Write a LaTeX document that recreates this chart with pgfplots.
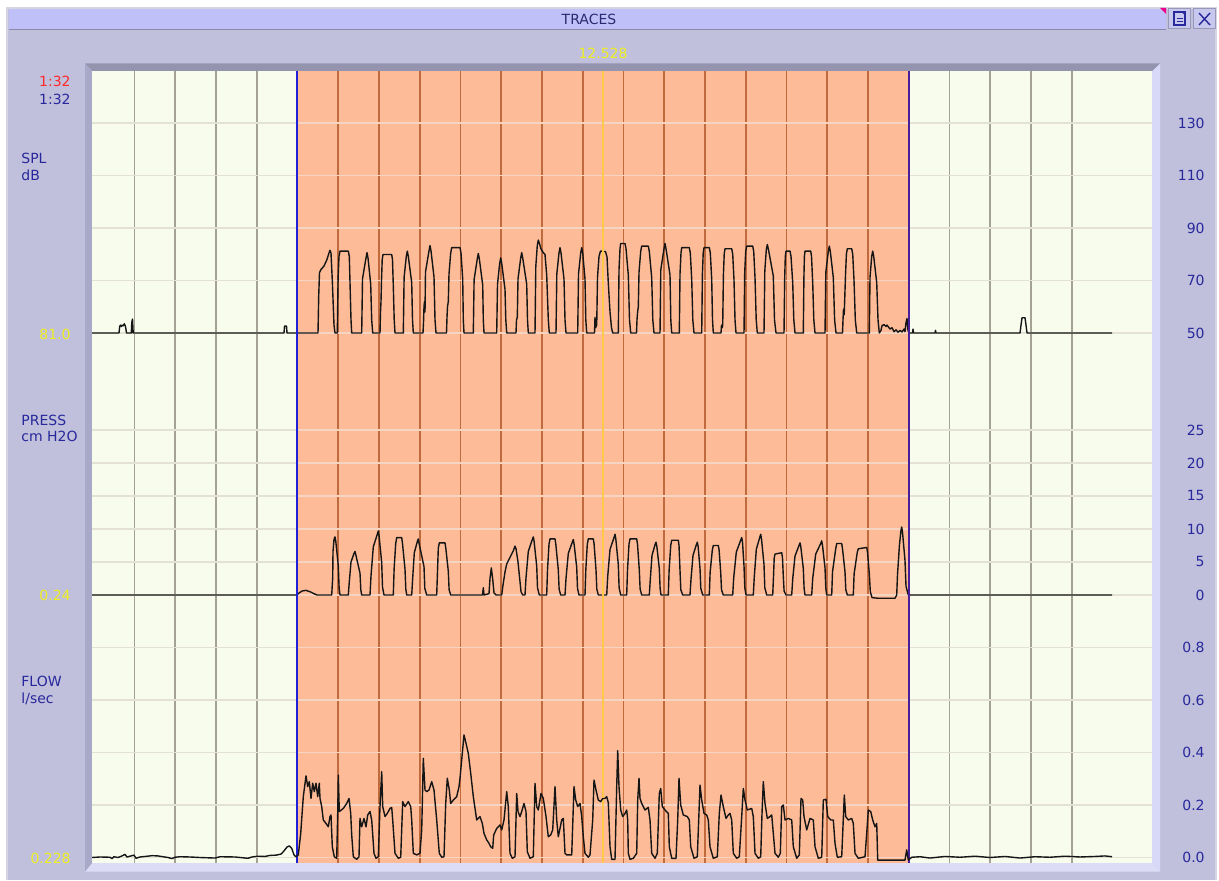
\documentclass[border=0pt]{standalone}
\usepackage{pgfplots}
\pgfplotsset{compat=1.18}
\usepackage{pgfplotstable}
\usepackage{fontspec}
\setmainfont{DejaVu Sans}

\definecolor{winbg}{HTML}{C0C0DC}
\definecolor{winedge}{HTML}{D4D4E2}
\definecolor{titlebar}{HTML}{C0C0F8}
\definecolor{titleline}{HTML}{8A8AA8}
\definecolor{titletext}{HTML}{2A2A70}
\definecolor{btnbg}{HTML}{C8C8EE}
\definecolor{btnedge}{HTML}{9898B8}
\definecolor{bevelT}{HTML}{9494AE}
\definecolor{bevelL}{HTML}{A8A8C8}
\definecolor{bevelR}{HTML}{D8D8F8}
\definecolor{bevelB}{HTML}{DCDCF6}
\definecolor{cream}{HTML}{F8FCEC}
\definecolor{salmon}{HTML}{FDBB98}
\definecolor{gridv}{HTML}{A4A294}
\definecolor{gridvo}{HTML}{C06A3E}
\definecolor{gridh}{HTML}{E4E2D4}
\definecolor{gridho}{HTML}{F6D4C2}
\definecolor{navy}{HTML}{28289C}
\definecolor{redlab}{HTML}{FF2A2A}
\definecolor{yellab}{HTML}{EEEE20}
\definecolor{trace}{HTML}{151515}
\definecolor{markblue}{HTML}{2020D8}
\definecolor{markpurple}{HTML}{4A1E9A}
\definecolor{cursor}{HTML}{FFC848}

% SPL (dB)
\pgfplotstableread{
x v
92 50
119 50
119.7 52.5
120.5 53
121.5 52.5
122.5 53
123.5 52.8
124.3 53.5
125.5 52.5
126.5 50
131.3 50
131.8 54
132.5 55.3
133.2 50
284 50
284.5 52.6
286.5 52.6
287 50
318 50
318.7 64
319.5 73
321 74.2
324 75.5
327 78
329 80.5
330 81.5
331 80.5
332.3 70
333.3 60
334 53
335 50
337.3 50
338.1 71.2
339 79.2
340 81.2
348.3 81.2
349.3 79.2
350 69.2
351 55
351.7 50
361.7 50
362.5 70.6
366 78.6
367 80.6
368 78.6
370.7 68.6
371.7 55
372.7 50
380 50
380.5 58
381 62
381.5 70
382.2 77.9
383 79.9
391.7 79.9
392.5 77.9
393.3 67.9
394.2 55
395 50
403.3 50
404.1 71.2
406.3 79.2
407.3 81.2
408.3 79.2
411.7 69.2
412.5 55
413.3 50
423 50
423.5 54
424 60
424.5 62
425 58
425.5 73.3
429 81.3
430 83.3
431 81.3
434 71.3
435 55
436 50
446.5 50
447 56
447.5 60
448.3 62
449 72.5
450.7 80.5
451.7 82.5
460 82.5
461 80.5
462.7 70.5
463.3 55
464 50
473.3 50
474.1 70.3
477.3 78.3
478.3 80.3
479.3 78.3
482.7 68.3
483.3 55
484 50
496.7 50
497.5 68.6
499.7 76.6
500.7 78.6
501.7 76.6
505 66.6
505.8 55
506.7 50
516 50
516.5 55
517.3 56
518 70.6
520.7 78.6
521.7 80.6
522.7 78.6
526.7 68.6
527.5 55
528.3 50
535 50
535.8 75.4
537.3 83.4
538.3 85.4
539.5 84
541 82
543.3 80.6
545 79.9
546.7 72
548.3 55
549.3 50
556 50
556.8 72.5
559 80.5
560 82.5
561 80.5
564 70.5
565 55
566 50
577.7 50
578.5 72.5
580.7 80.5
581.7 82.5
582.7 80.5
585 70.5
585.8 55
586.7 50
594.5 50
595 56
595.5 52
596.7 53
597.5 71.2
599 79.2
600.5 81.2
605.5 81
607 79
608.3 69
610 58
611.5 52
612.7 50
618.3 50
619 74.1
620 82.1
620.7 84.1
625 84.1
626 82.1
628.3 72.1
629.5 55
630.7 50
636.5 50
637 55
637.6 58
638.3 60
639 73.1
640.7 81.1
641.7 83.1
648.3 83.1
649.3 81.1
651.7 71.1
652.8 55
654 50
660 50
660.8 74.1
664 82.1
665 84.1
666 82.1
670 72.1
670.8 55
671.7 50
679.3 50
680 72.5
681 80.5
681.7 82.5
689.3 82.5
690.3 80.5
691.7 70.5
692.8 55
694 50
701.7 50
702.4 72.5
703.2 80.5
704 82.5
709.3 82.5
710.3 80.5
711.7 70.5
712.5 55
713.3 50
721 50
721.5 53
722.2 52
722.7 53
723.4 72.1
724.2 80.1
725 82.1
731.7 82.1
732.7 80.1
734 70.1
735 55
736 50
744 50
744.7 73.1
745.7 81.1
746.7 83.1
752.7 83.1
753.7 81.1
755 71.1
756.2 55
757.3 50
764 50
764.8 73.7
766.3 81.7
767.3 83.7
768.5 81.7
773.3 71.7
774.5 55
776 50
784 50
784.7 71.2
785.3 79.2
786 81.2
790 81.2
791 79.2
792.7 69.2
793.8 55
795 50
803.3 50
803.9 71.2
804.4 79.2
805 81.2
810.7 81.2
811.5 79.2
812.7 69.2
813.8 55
815 50
825 50
825.8 73.1
828.3 81.1
829.3 83.1
830.3 81.1
833.3 71.1
834.6 55
836 50
842.5 50
843 55
843.5 59
844.2 57
845.5 72.1
846.4 80.1
847.3 82.1
851.7 82.1
852.7 80.1
854 70.1
855.3 55
856.7 50
869.3 50
870 71.2
871.7 79.2
872.7 81.2
873.7 79.2
876.7 69.2
878 55
879.3 50
881 51
882 52.8
884 53.2
886 52.5
887 53
889 52
890 51.5
892 52
894 50.5
896 51.2
898 50.3
900 51
902 50.4
904 51.5
905 50.5
906 54
907 55.5
908 51
909 50
912.5 50
913 51.5
913.5 50
935 50
935.5 51
936 50
1020 50
1021 53
1022 55.8
1025 55.8
1026 53
1027 50
1112 50
}\splTable

% PRESS (cm H2O)
\pgfplotstableread{
x v
92 0
297 0
299 0.3
302 0.6
306 0.7
310 0.5
314 0.2
317 0
331.7 0
332.7 2.6
333 6.6
334 8.4
335 8.8
335.8 8.1
338.3 4.4
339.1 1.1
340 0
348.3 0
349.3 2
351 5
354 6.3
355 6.6
355.8 6.1
360 3.3
360.8 0.8
361.7 0
370 0
371 2.9
373.3 7.3
377.3 9.2
378.3 9.7
379.1 8.9
381.7 4.9
382.5 1.2
384 0
393.3 0
394.1 3.9
395.7 7.8
396.7 8.7
401.7 8.7
402.5 7.8
405 3.9
405.8 0.9
406.7 0
411.7 0
412.7 2.6
414.3 6.4
417.3 8.1
418.3 8.5
419.1 7.8
424 4.3
424.8 1
426.7 0
436.7 0
437.5 3.6
438.3 7.1
439.3 7.9
445 7.9
445.8 7.1
448.3 3.6
449.1 0.8
450.7 0
482.5 0
483.3 1.1
484 0
489 0.2
490 2.5
491.3 4.1
492.7 2.4
494 0.3
496 0
501.7 0
503 1.5
505 3.5
506.7 4.7
510 5.7
513.3 6.7
515 7.4
516 7
518 5
520 2
521 0.5
522.7 0
525 0
526 2.6
528.3 6.6
532.3 8.4
533.3 8.8
534.1 8.1
536.7 4.4
537.5 1.1
539.3 0
546.7 0
547.5 3.8
549 7.7
550 8.5
555 8.5
555.8 7.7
558.3 3.8
559.1 0.9
560.7 0
565 0
566 2.5
568.3 6.3
572.3 8
573.3 8.4
574.1 7.7
576.7 4.2
577.5 1
579 0
585 0
585.8 3.8
587.3 7.7
588.3 8.5
593.3 8.5
594.1 7.7
596 3.8
596.8 0.9
598.3 0
606.7 0
607.7 2.8
610 6.9
614 8.7
615 9.2
615.8 8.5
618.3 4.6
619.1 1.1
620.7 0
626.7 0
627.5 3.8
629 7.7
630 8.5
636.7 8.5
637.5 7.7
639.3 3.8
640.1 0.9
641.7 0
649.3 0
650.3 2.4
652 6
655 7.6
656 8
656.8 7.4
659.3 4
660.1 1
661 0
668.3 0
669.1 3.7
670.7 7.5
671.7 8.3
678.3 8.3
679 7.5
680 3.7
680.8 0.8
682.7 0
690 0
691 2.4
693 6
696.3 7.6
697.3 8
698.1 7.4
700 4
700.8 1
702.7 0
709.3 0
710.1 3.4
712.3 6.8
713.3 7.5
718.3 7.5
719.1 6.8
720.7 3.4
721.5 0.8
723.3 0
732.7 0
733.7 2.6
736.3 6.5
740.7 8.3
741.7 8.7
742.5 8
744 4.4
744.8 1.1
746 0
753.3 0
754.3 2.8
756.3 6.9
759.7 8.7
760.7 9.2
761.5 8.5
764 4.6
764.8 1.1
766.7 0
772.7 0
773.5 2.8
774.2 5.6
775 6.2
781.7 6.4
782.5 5.6
783.3 2.8
784.1 0.6
786 0
791.7 0
792.7 2.4
795 5.9
799 7.5
800 7.9
800.8 7.3
803.3 4
804.1 1
805 0
811.7 0
812.7 2.5
815.7 6.2
820.7 7.8
821.7 8.2
822.5 7.5
825 4.1
825.8 1
826.7 0
831.7 0
832.5 3.5
835.7 7
836.7 7.8
841.7 7.8
842.5 7
845 3.5
845.8 0.8
847.3 0
853.3 0
854.1 3.2
857.3 6.5
858.3 7
866.7 7.2
867.5 6.5
869.3 3.2
870.3 0.5
872 -0.4
878.3 -0.5
895 -0.5
896.7 0
897.5 3.1
899.5 7.7
901 9.8
901.7 10.3
902.5 9.5
905 5.2
906 1.3
908.3 0
1112 0
}\pressTable

% FLOW (l/sec)
\pgfplotstableread{
x v
92 0
100 0.002
110 0.001
112 -0.004
114 0.003
118 0
122 0.006
125 0.012
127 0.002
130 0.005
134 0.009
136 -0.003
140 0.002
145 0.004
152 0.007
158 0.006
163 0.003
168 0
172 -0.004
175 0.001
180 0.003
190 0.002
200 0
215 -0.002
220 0.003
235 0.002
248 -0.003
252 0.002
258 0.005
265 0.004
270 0.008
276 0.009
281 0.013
284 0.025
287 0.040
289.3 0.044
291.7 0.035
294 0.010
296 0.003
298.3 0.010
300.7 0.092
303.3 0.232
306 0.311
307.7 0.270
309.3 0.289
311 0.225
312.7 0.283
314.3 0.251
316 0.283
317.7 0.232
319.3 0.283
320 0.225
321.7 0.194
323.3 0.143
326 0.130
328.3 0.117
330 0.156
331 0.162
332.3 0.041
334.3 0.003
336.7 -0.003
337.7 0.168
338.3 0.314
339.3 0.175
343.3 0.187
346.7 0.206
349 0.225
350.7 0.168
351.7 0.086
353.3 0.003
356.7 -0.007
359 0.003
360 0.149
361.7 0.117
364 0.149
366 0.117
367.7 0.162
370 0.175
371.7 0.143
374 0.016
376 -0.003
378.3 0.003
380 0.194
381.7 0.327
382.7 0.194
385 0.156
387.3 0.168
390 0.187
391.7 0.191
392.7 0.143
395 0.016
398.3 -0.003
400.7 0.001
402.7 0.213
405 0.194
408.3 0.213
410.7 0.194
411.7 0.143
413.3 0.016
416.7 0.010
420 0.016
421.7 0.105
423.3 0.378
425 0.257
426.7 0.251
429 0.257
431.7 0.289
434 0.257
436.7 0.143
439.3 0.016
441.7 0.001
444 0.003
445.7 0.206
447.3 0.302
449.3 0.257
450.7 0.206
453.3 0.219
456.7 0.232
459 0.270
460 0.302
462.3 0.397
464 0.467
466 0.435
468.3 0.397
470.7 0.321
473.3 0.232
476.7 0.143
480 0.156
482.3 0.130
484 0.092
486.7 0.067
489 0.054
490.7 0.041
492.7 0.035
493.7 0.086
496.7 0.111
500 0.124
501.7 0.105
504 0.143
506.7 0.251
508.3 0.194
510 0.016
512.3 -0.003
515 0.003
516.7 0.244
518 0.175
520 0.156
521.7 0.175
524 0.206
526 0.175
527.3 0.022
530 -0.003
533.3 0.003
535 0.283
536.7 0.194
538.3 0.181
541 0.244
543.3 0.225
546 0.156
548.3 0.079
550.7 0.086
552.7 0.105
555 0.270
556.7 0.143
558.3 0.079
561.7 0.143
563.3 0.149
565 0.016
566.7 0.010
571.7 0.010
574 0.270
575.7 0.219
577.7 0.194
580 0.206
581.7 0.156
583.3 0.079
585 0.016
588.3 0.001
590 0.010
592.7 0.143
594 0.295
596 0.257
598.3 0.219
600.7 0.213
602.7 0.225
605 0.225
606.7 0.232
608.3 0.209
610 0.041
611.7 -0.007
615 -0.007
616.7 0.270
617.7 0.407
619 0.270
620.7 0.181
622.7 0.156
625 0.168
626.7 0.181
627.7 0.143
628.3 0.016
630 -0.007
633.3 -0.003
636.7 0.016
637.7 0.219
639 0.302
640 0.225
641.7 0.206
645 0.181
648.3 0.191
650 0.143
651.7 0.016
655 -0.003
657.3 0.016
659.3 0.244
660.7 0.263
662.3 0.194
665 0.181
668.3 0.168
669.3 0.041
671.7 -0.003
676 -0.003
677.7 0.143
679 0.302
680.7 0.200
683.3 0.162
687.3 0.156
689.3 0.143
690.7 0.041
694 -0.003
697.3 0.003
698.7 0.143
700 0.276
701.7 0.219
704 0.168
706.7 0.162
708.3 0.143
710 0.041
713.3 -0.003
717.3 0.003
719.3 0.168
721 0.238
723.3 0.194
726 0.149
728.3 0.162
730 0.168
731.7 0.143
733.3 0.016
736.7 -0.003
739.3 0.003
741.7 0.156
743.3 0.263
745 0.219
747.3 0.181
751.7 0.187
753.3 0.156
755 0.016
758.3 -0.003
760.7 0.003
762 0.168
763.3 0.289
765 0.206
767.3 0.149
770 0.156
771.7 0.162
773.3 0.092
775 0.016
778.3 0.001
780.3 0.016
781.7 0.194
783.3 0.200
785 0.143
788.3 0.149
791.7 0.143
793.3 0.041
796.7 -0.003
799.3 0.010
801 0.225
802.7 0.219
804 0.156
806.7 0.105
810 0.149
813.3 0.143
815 0.041
818.3 -0.003
821.7 0.001
823.3 0.219
826 0.222
827.7 0.156
830.7 0.143
833.3 0.143
835 0.054
837.3 0.001
841.7 0.003
844.3 0.238
845.7 0.156
848.3 0.143
851.7 0.149
853.3 0.130
855 0.016
858.3 -0.003
865 0.003
866.7 0.092
868.3 0.181
870.7 0.175
872.7 0.143
875 0.117
876.7 0.130
877.7 -0.010
905 -0.010
906.7 0.029
908.3 -0.010
911.7 0.001
920 0.003
930 -0.002
945 0.004
960 0.001
975 0.005
990 0
1005 0.004
1020 -0.002
1035 0.003
1050 0.001
1065 0.005
1080 0.002
1095 0.004
1105 0.006
1112 0.003
}\flowTable

\pgfplotsset{
  trace axis/.style={
    at={(46pt,8.5pt)}, anchor=south west, scale only axis,
    width=530pt, height=396pt, xmin=92, xmax=1152,
    axis line style={draw=none}, xtick=\empty,
    major tick length=0pt, tick style={draw=none},
    yticklabel pos=right, ymajorgrids,
    major grid style={draw=gridh, line width=0.75pt},
    yticklabel style={anchor=east, xshift=26.5pt, inner sep=0pt, text=navy,
      font=\fontsize{7}{8.4}\selectfont},
  },
  trace line/.style={draw=trace, line width=0.7pt, line join=round, mark=none},
}

\begin{document}
\begin{tikzpicture}[font=\fontsize{7}{8.4}\selectfont]
\begin{scope}[x=0.5pt,y=0.5pt]
  \fill[white] (0,0) rectangle (1219,880);
  \fill[winbg] (7,0) rectangle (1216,872);
  \draw[winedge,line width=0.6pt] (7,0) -- (7,872) -- (1216,872) -- (1216,0);
  % title bar
  \fill[titlebar] (9,851) rectangle (1166,871);
  \draw[titleline,line width=0.8pt] (9,850.5) -- (1166,850.5);
  \fill[magenta] (1160,872) -- (1166,872) -- (1166,866) -- cycle;
  \node[text=titletext,anchor=base] at (589,855.5) {TRACES};
  % buttons
  \filldraw[fill=btnbg,draw=btnedge,line width=0.5pt] (1168,851) rectangle (1190,871);
  \filldraw[fill=btnbg,draw=btnedge,line width=0.5pt] (1193,851) rectangle (1215,871);
  \draw[navy,line width=0.7pt] (1174,855) rectangle (1185,868);
  \draw[navy,line width=0.6pt] (1176.5,858.5) -- (1182.5,858.5) (1176.5,861.5) -- (1182.5,861.5);
  \fill[navy] (1181.5,868) -- (1185,868) -- (1185,864.5) -- cycle;
  \draw[navy,line width=0.7pt] (1199,855) -- (1210,867) (1199,867) -- (1210,855);
  % bevels of the plot area
  \fill[bevelR] (1152,17) -- (1152,809) -- (1160,816.5) -- (1160,8.5) -- cycle;
  \fill[bevelB] (85,8.5) -- (1160,8.5) -- (1152,17) -- (92,17) -- cycle;
  \fill[bevelT] (85,816.5) -- (1160,816.5) -- (1152,809) -- (92,809) -- cycle;
  \fill[bevelL] (85,8.5) -- (85,816.5) -- (92,809) -- (92,17) -- cycle;
  % plot area
  \fill[cream] (92,17) rectangle (1152,809);
  \foreach \gx in {134.4,175.15,215.9,256.65,949.4,990.15,1030.9,1071.65}
    \draw[gridv,line width=0.9pt] (\gx,17) -- (\gx,809);
  \fill[salmon] (297,17) rectangle (909,809);
  \foreach \gx in {338.15,378.9,419.65,460.4,501.15,541.9,582.65,623.4,664.15,704.9,745.65,786.4,827.15,867.9}
    \draw[gridvo,line width=0.9pt] (\gx,17) -- (\gx,809);
  % left labels
  \node[text=redlab,anchor=base east,inner sep=0pt] at (71,793) {1:32};
  \node[text=navy,anchor=base east,inner sep=0pt] at (71,776) {1:32};
  \node[text=navy,anchor=base west,inner sep=0pt] at (21,716.7) {SPL};
  \node[text=navy,anchor=base west,inner sep=0pt] at (21,700) {dB};
  \node[text=yellab,anchor=base east,inner sep=0pt] at (71,541) {81.0};
  \node[text=navy,anchor=base west,inner sep=0pt] at (21,455) {PRESS};
  \node[text=navy,anchor=base west,inner sep=0pt] at (21,438.3) {cm H2O};
  \node[text=yellab,anchor=base east,inner sep=0pt] at (71,280) {0.24};
  \node[text=navy,anchor=base west,inner sep=0pt] at (21,193.3) {FLOW};
  \node[text=navy,anchor=base west,inner sep=0pt] at (21,176.7) {l/sec};
  \node[text=yellab,anchor=base east,inner sep=0pt] at (71,16.7) {0.228};
  \node[text=yellab,anchor=base,inner sep=0pt] at (603,821.5) {12.528};
\end{scope}

% SPL trace
\begin{axis}[trace axis, ymin=-151.9, ymax=149.8,
  ytick={50,70,90,110,130}, yticklabels={50,70,90,110,130}]
  \pgfplotsinvokeforeach{50,70,90,110,130}{
    \draw[gridho,line width=0.75pt] (axis cs:298,#1) -- (axis cs:908,#1);}
  \addplot[trace line] table[x=x,y=v] {\splTable};
\end{axis}

% PRESS trace
\begin{axis}[trace axis, ymin=-40.61, ymax=79.39,
  ytick={0,5,10,15,20,25}, yticklabels={0,5,10,15,20,25}]
  \pgfplotsinvokeforeach{0,5,10,15,20,25}{
    \draw[gridho,line width=0.75pt] (axis cs:298,#1) -- (axis cs:908,#1);}
  \addplot[trace line] table[x=x,y=v] {\pressTable};
\end{axis}

% FLOW trace
\begin{axis}[trace axis, ymin=-0.02095, ymax=2.9962,
  ytick={0,0.2,0.4,0.6,0.8}, yticklabels={0.0,0.2,0.4,0.6,0.8}]
  \pgfplotsinvokeforeach{0,0.2,0.4,0.6,0.8}{
    \draw[gridho,line width=0.75pt] (axis cs:298,#1) -- (axis cs:908,#1);}
  \draw[cursor,line width=0.6pt] (axis cs:603,-0.02095) -- (axis cs:603,2.9962);
  \draw[markblue,line width=1pt] (axis cs:297,-0.02095) -- (axis cs:297,2.9962);
  \draw[markpurple,line width=1pt] (axis cs:909,-0.02095) -- (axis cs:909,2.9962);
  \addplot[trace line] table[x=x,y=v] {\flowTable};
\end{axis}
\end{tikzpicture}
\end{document}
